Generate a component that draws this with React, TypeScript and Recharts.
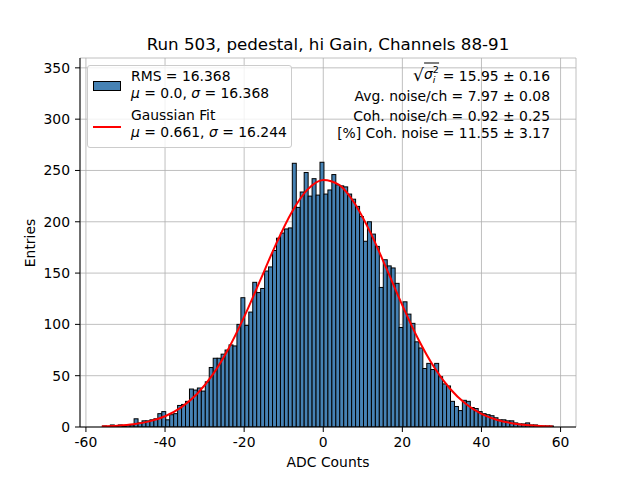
import React from "react";
import {
  ComposedChart,
  Bar,
  Line,
  XAxis,
  YAxis,
  CartesianGrid,
  Label,
} from "recharts";

const FONT = '"DejaVu Sans", Verdana, sans-serif';

// histogram: 114 bins of width 1, first left edge at -55.8
const firstBinEdge = -55.8;
const entries = [
  1, 0, 2, 1, 2, 1, 2, 2, 8, 4,
  6, 6, 7, 8, 13, 15, 7, 12, 13, 21,
  22, 25, 37, 36, 38, 35, 44, 58, 67, 67,
  71, 75, 80, 79, 100, 126, 99, 112, 141, 131,
  135, 152, 156, 172, 184, 189, 193, 194, 257, 214,
  229, 248, 225, 242, 226, 258, 227, 231, 246, 236,
  235, 234, 227, 222, 215, 205, 181, 200, 188, 176,
  136, 163, 157, 155, 140, 97, 122, 110, 101, 83,
  77, 57, 62, 56, 62, 49, 42, 40, 25, 20,
  16, 26, 25, 19, 18, 15, 13, 12, 11, 9,
  7, 7, 6, 6, 4, 3, 3, 4, 2, 2,
  1, 1, 1, 1,
];

// red fit curve
const fitX = [
  -56, -52, -48, -44, -40, -36, -32, -28, -24, -20, -16, -12, -8, -4, 0,
  4, 8, 12, 16, 20, 24, 28, 32, 36, 40, 44, 48, 52, 56, 58,
];
const fitY = [
  0.6, 1.3, 2.7, 5.5, 10.5, 18.9, 31.9, 50.8, 76.1, 107.3, 142.4, 177.8,
  209.1, 231.3, 240.8, 236.0, 217.6, 188.9, 154.3, 118.6, 85.8, 58.5, 37.5,
  22.6, 12.8, 6.9, 3.5, 1.6, 0.7, 0.5,
];

const xTicks = [-60, -40, -20, 0, 20, 40, 60];
const yTicks = [0, 50, 100, 150, 200, 250, 300, 350];
const xDomain: [number, number] = [-61.5, 63.9];
const yDomain: [number, number] = [0, 359.6];

const histRows = entries.map((count, i) => ({
  x: firstBinEdge + i + 0.5,
  count,
}));
const fitRows = fitX.map((x, i) => ({ x, fit: fitY[i] }));

// plot is 496px wide, so one bin is this many px
const BIN_PX = 496 / (xDomain[1] - xDomain[0]);

const tickStyle = { fill: "#000", fontSize: 13.9, fontFamily: FONT };

function HistBar(props: any) {
  const { x, y, width, height } = props;
  if (!height || height <= 0) return null;
  const cx = x + width / 2;
  return (
    <rect
      x={cx - BIN_PX / 2}
      y={y}
      width={BIN_PX}
      height={height}
      fill="#4682b4"
      stroke="#000"
      strokeWidth={1}
    />
  );
}

function TextAt({
  x,
  y,
  children,
  align = "center",
  size = 13.9,
}: {
  x: number;
  y: number;
  children: React.ReactNode;
  align?: "center" | "left" | "right";
  size?: number;
}) {
  const tx = align === "center" ? "-50%" : align === "right" ? "-100%" : "0";
  return (
    <div
      style={{
        position: "absolute",
        left: x,
        top: y,
        transform: `translate(${tx}, -50%)`,
        whiteSpace: "nowrap",
        fontSize: size,
        lineHeight: 1,
        color: "#000",
      }}
    >
      {children}
    </div>
  );
}

export default function App() {
  return (
    <div
      style={{
        position: "absolute",
        left: 0,
        top: 0,
        width: 640,
        height: 480,
        background: "#fff",
        fontFamily: FONT,
      }}
    >
      <ComposedChart
        width={640}
        height={480}
        data={histRows}
        margin={{ top: 58, right: 64, bottom: 23, left: 0 }}
        barCategoryGap={0}
        barGap={0}
      >
        <XAxis
          dataKey="x"
          type="number"
          domain={xDomain}
          ticks={xTicks}
          allowDataOverflow
          height={30}
          tickSize={5}
          tickMargin={5}
          tick={tickStyle}
          stroke="#000"
        >
          <Label
            value="ADC Counts"
            position="bottom"
            offset={0}
            style={{ fill: "#000", fontSize: 13.9, fontFamily: FONT }}
          />
        </XAxis>
        <XAxis
          xAxisId="top"
          dataKey="x"
          type="number"
          orientation="top"
          domain={xDomain}
          height={0}
          tick={false}
          tickLine={false}
          stroke="#000"
        />
        <YAxis
          type="number"
          domain={yDomain}
          ticks={yTicks}
          allowDataOverflow
          width={80}
          tickSize={5}
          tickMargin={5}
          tick={tickStyle}
          stroke="#000"
        />
        <YAxis
          yAxisId="right"
          orientation="right"
          type="number"
          domain={yDomain}
          width={0}
          tick={false}
          tickLine={false}
          stroke="#000"
        />
        <Bar
          dataKey="count"
          fill="#4682b4"
          shape={HistBar}
          isAnimationActive={false}
        />
        <CartesianGrid stroke="#b0b0b0" strokeWidth={0.8} />
        <Line
          data={fitRows}
          dataKey="fit"
          type="monotone"
          stroke="#ff0000"
          strokeWidth={2}
          dot={false}
          activeDot={false}
          isAnimationActive={false}
        />
      </ComposedChart>

      <TextAt x={328} y={44} size={16.7}>
        Run 503, pedestal, hi Gain, Channels 88-91
      </TextAt>
      <div
        style={{
          position: "absolute",
          left: 31,
          top: 243,
          transform: "translate(-50%, -50%) rotate(-90deg)",
          fontSize: 13.9,
          lineHeight: 1,
          whiteSpace: "nowrap",
        }}
      >
        Entries
      </div>

      {/* legend */}
      <div
        style={{
          position: "absolute",
          left: 87,
          top: 65,
          width: 205,
          height: 83,
          background: "rgba(255,255,255,0.8)",
          border: "1px solid #cccccc",
          borderRadius: 3,
          boxSizing: "border-box",
        }}
      />
      <div
        style={{
          position: "absolute",
          left: 93,
          top: 81,
          width: 28,
          height: 10,
          background: "#4682b4",
          border: "1px solid #000",
          boxSizing: "border-box",
        }}
      />
      <TextAt x={131} y={77} align="left">
        RMS = 16.368
      </TextAt>
      <TextAt x={131} y={94} align="left">
        <i>μ</i> = 0.0, <i>σ</i> = 16.368
      </TextAt>
      <div
        style={{
          position: "absolute",
          left: 93,
          top: 126,
          width: 28,
          height: 2,
          background: "#ff0000",
        }}
      />
      <TextAt x={131} y={116} align="left">
        Gaussian Fit
      </TextAt>
      <TextAt x={131} y={133} align="left">
        <i>μ</i> = 0.661, <i>σ</i> = 16.244
      </TextAt>

      {/* noise summary */}
      <TextAt x={550} y={73} align="right">
        <span style={{ display: "inline-flex", alignItems: "flex-end" }}>
          <span style={{ fontSize: 17, lineHeight: 1 }}>√</span>
          <span
            style={{
              borderTop: "1px solid #000",
              paddingTop: 1,
              display: "inline-flex",
              alignItems: "center",
              marginRight: 4,
            }}
          >
            <i>σ</i>
            <span
              style={{
                display: "inline-flex",
                flexDirection: "column",
                fontSize: 9.5,
                lineHeight: 1,
              }}
            >
              <span>2</span>
              <i>i</i>
            </span>
          </span>
          <span>= 15.95 ± 0.16</span>
        </span>
      </TextAt>
      <TextAt x={550} y={97} align="right">
        Avg. noise/ch = 7.97 ± 0.08
      </TextAt>
      <TextAt x={550} y={117} align="right">
        Coh. noise/ch = 0.92 ± 0.25
      </TextAt>
      <TextAt x={550} y={134} align="right">
        [%] Coh. noise = 11.55 ± 3.17
      </TextAt>
    </div>
  );
}
